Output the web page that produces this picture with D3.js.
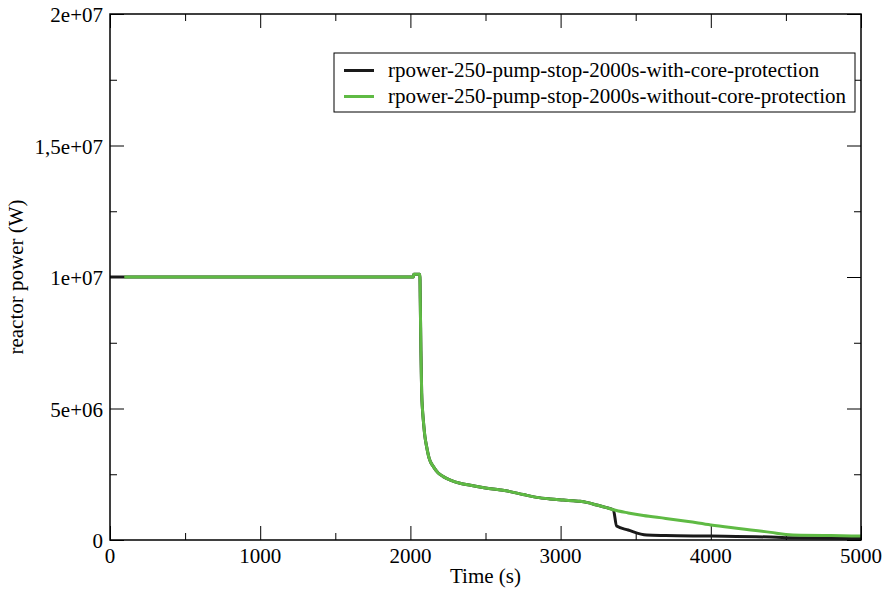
<!DOCTYPE html>
<html>
<head>
<meta charset="utf-8">
<script src="https://cdn.jsdelivr.net/npm/d3@7"></script>
<style>
  html, body { margin: 0; padding: 0; background: #fff; }
  svg { display: block; }
  text { font-family: "Liberation Serif", "Times New Roman", "DejaVu Serif", serif; fill: #000; }
</style>
</head>
<body>
<svg id="chart" width="884" height="592"></svg>
<script>
// Reactor power after pump stop at t = 2000 s
const seriesNames = [
  "rpower-250-pump-stop-2000s-with-core-protection",
  "rpower-250-pump-stop-2000s-without-core-protection"
];
const seriesColors = ["#1a1a1a", "#5fba44"];

const timeWith = [0, 2020, 2022, 2063, 2066, 2070, 2075, 2080, 2086, 2097, 2108, 2125, 2153, 2185, 2219, 2270, 2330, 2400, 2500, 2600, 2663, 2750, 2841, 2930, 3018, 3085, 3129, 3180, 3240, 3300, 3351,
  3373, 3450, 3573, 3700, 4000, 4400, 4500, 5000];
const powerWith = [1.0e7, 1.0e7, 1.01e7, 1.01e7, 9.0e6, 7.2e6, 5.6e6, 5.0e6, 4.56e6, 3.92e6, 3.55e6, 3.1e6, 2.79e6, 2.55e6, 2.41e6, 2.27e6, 2.16e6, 2.08e6, 1.98e6, 1.90e6, 1.84e6, 1.73e6, 1.62e6, 1.56e6, 1.52e6, 1.49e6, 1.47e6, 1.42e6, 1.33e6, 1.24e6, 1.15e6,
  0.53e6, 0.38e6, 0.19e6, 0.17e6, 0.15e6, 0.11e6, 0.09e6, 0.065e6];

const timeWithout = [95, 2020, 2022, 2063, 2066, 2070, 2075, 2080, 2086, 2097, 2108, 2125, 2153, 2185, 2219, 2270, 2330, 2400, 2500, 2600, 2663, 2750, 2841, 2930, 3018, 3085, 3129, 3180, 3240, 3300, 3351,
  3450, 3551, 3700, 3850, 4000, 4200, 4400, 4500, 4600, 4800, 5000];
const powerWithout = [1.0e7, 1.0e7, 1.01e7, 1.01e7, 9.0e6, 7.2e6, 5.6e6, 5.0e6, 4.56e6, 3.92e6, 3.55e6, 3.1e6, 2.79e6, 2.55e6, 2.41e6, 2.27e6, 2.16e6, 2.08e6, 1.98e6, 1.90e6, 1.84e6, 1.73e6, 1.62e6, 1.56e6, 1.52e6, 1.49e6, 1.47e6, 1.42e6, 1.33e6, 1.24e6, 1.15e6,
  1.03e6, 0.93e6, 0.82e6, 0.70e6, 0.57e6, 0.43e6, 0.29e6, 0.21e6, 0.18e6, 0.17e6, 0.15e6];

const xTicks = [0, 1000, 2000, 3000, 4000, 5000];
const xMinorTicks = [500, 1500, 2500, 3500, 4500];
const yTicks = [0, 5e6, 1e7, 1.5e7, 2e7];
const yTickLabels = ["0", "5e+06", "1e+07", "1,5e+07", "2e+07"];
const yMinorTicks = [2.5e6, 7.5e6, 1.25e7, 1.75e7];

const W = 884, H = 592;
const margin = { top: 14, right: 23, bottom: 52, left: 110 };
const iw = W - margin.left - margin.right;
const ih = H - margin.top - margin.bottom;
const fontSize = 21;

const svg = d3.select("#chart");
const g = svg.append("g").attr("transform", `translate(${margin.left},${margin.top})`);

const x = d3.scaleLinear().domain([0, 5000]).range([0, iw]);
const y = d3.scaleLinear().domain([0, 2e7]).range([ih, 0]);

const majorLen = 14, minorLen = 7;

// inward ticks on all four sides
function tickAxis(axisGen, transform) {
  const a = g.append("g").attr("transform", transform).call(axisGen);
  a.select(".domain").remove();
  a.selectAll(".tick line").attr("stroke", "#000").attr("stroke-width", 1);
  return a;
}
tickAxis(d3.axisTop(x).tickValues(xTicks).tickSize(majorLen).tickFormat(""), `translate(0,${ih})`);
tickAxis(d3.axisTop(x).tickValues(xMinorTicks).tickSize(minorLen).tickFormat(""), `translate(0,${ih})`);
tickAxis(d3.axisBottom(x).tickValues(xTicks).tickSize(majorLen).tickFormat(""), "translate(0,0)");
tickAxis(d3.axisBottom(x).tickValues(xMinorTicks).tickSize(minorLen).tickFormat(""), "translate(0,0)");
tickAxis(d3.axisRight(y).tickValues(yTicks).tickSize(majorLen).tickFormat(""), "translate(0,0)");
tickAxis(d3.axisRight(y).tickValues(yMinorTicks).tickSize(minorLen).tickFormat(""), "translate(0,0)");
tickAxis(d3.axisLeft(y).tickValues(yTicks).tickSize(majorLen).tickFormat(""), `translate(${iw},0)`);
tickAxis(d3.axisLeft(y).tickValues(yMinorTicks).tickSize(minorLen).tickFormat(""), `translate(${iw},0)`);

// tick labels
g.append("g").selectAll("text").data(xTicks).join("text")
  .attr("x", d => x(d)).attr("y", ih + 23)
  .attr("text-anchor", "middle").attr("font-size", fontSize)
  .text(d => d);
g.append("g").selectAll("text").data(yTicks).join("text")
  .attr("x", -7).attr("y", d => y(d) + 8)
  .attr("text-anchor", "end").attr("font-size", fontSize)
  .text((d, i) => yTickLabels[i]);

// axis titles
g.append("text").attr("x", iw / 2).attr("y", ih + 43)
  .attr("text-anchor", "middle").attr("font-size", fontSize).text("Time (s)");
g.append("text")
  .attr("transform", `translate(${-87},${ih / 2}) rotate(-90)`)
  .attr("text-anchor", "middle").attr("font-size", fontSize).text("reactor power (W)");

// data lines
const line = d3.line().x(d => x(d[0])).y(d => y(d[1])).curve(d3.curveMonotoneX);
const series = [
  d3.zip(timeWith, powerWith),
  d3.zip(timeWithout, powerWithout)
];
g.append("g").selectAll("path").data(series).join("path")
  .attr("d", line)
  .attr("fill", "none")
  .attr("stroke", (d, i) => seriesColors[i])
  .attr("stroke-width", 3)
  .attr("stroke-linejoin", "round");

// frame
g.append("rect").attr("x", 0).attr("y", 0).attr("width", iw).attr("height", ih)
  .attr("fill", "none").attr("stroke", "#000").attr("stroke-width", 1.5);

// legend
const lg = g.append("g").attr("transform", `translate(${334 - margin.left},${53 - margin.top})`);
lg.append("rect").attr("width", 521).attr("height", 59)
  .attr("fill", "#fff").attr("stroke", "#000").attr("stroke-width", 1);
seriesNames.forEach((name, i) => {
  const yy = 17.5 + i * 26;
  lg.append("line").attr("x1", 10).attr("x2", 40).attr("y1", yy).attr("y2", yy)
    .attr("stroke", seriesColors[i]).attr("stroke-width", 3);
  lg.append("text").attr("x", 54).attr("y", yy + 6).attr("font-size", fontSize).text(name);
});
</script>
</body>
</html>
